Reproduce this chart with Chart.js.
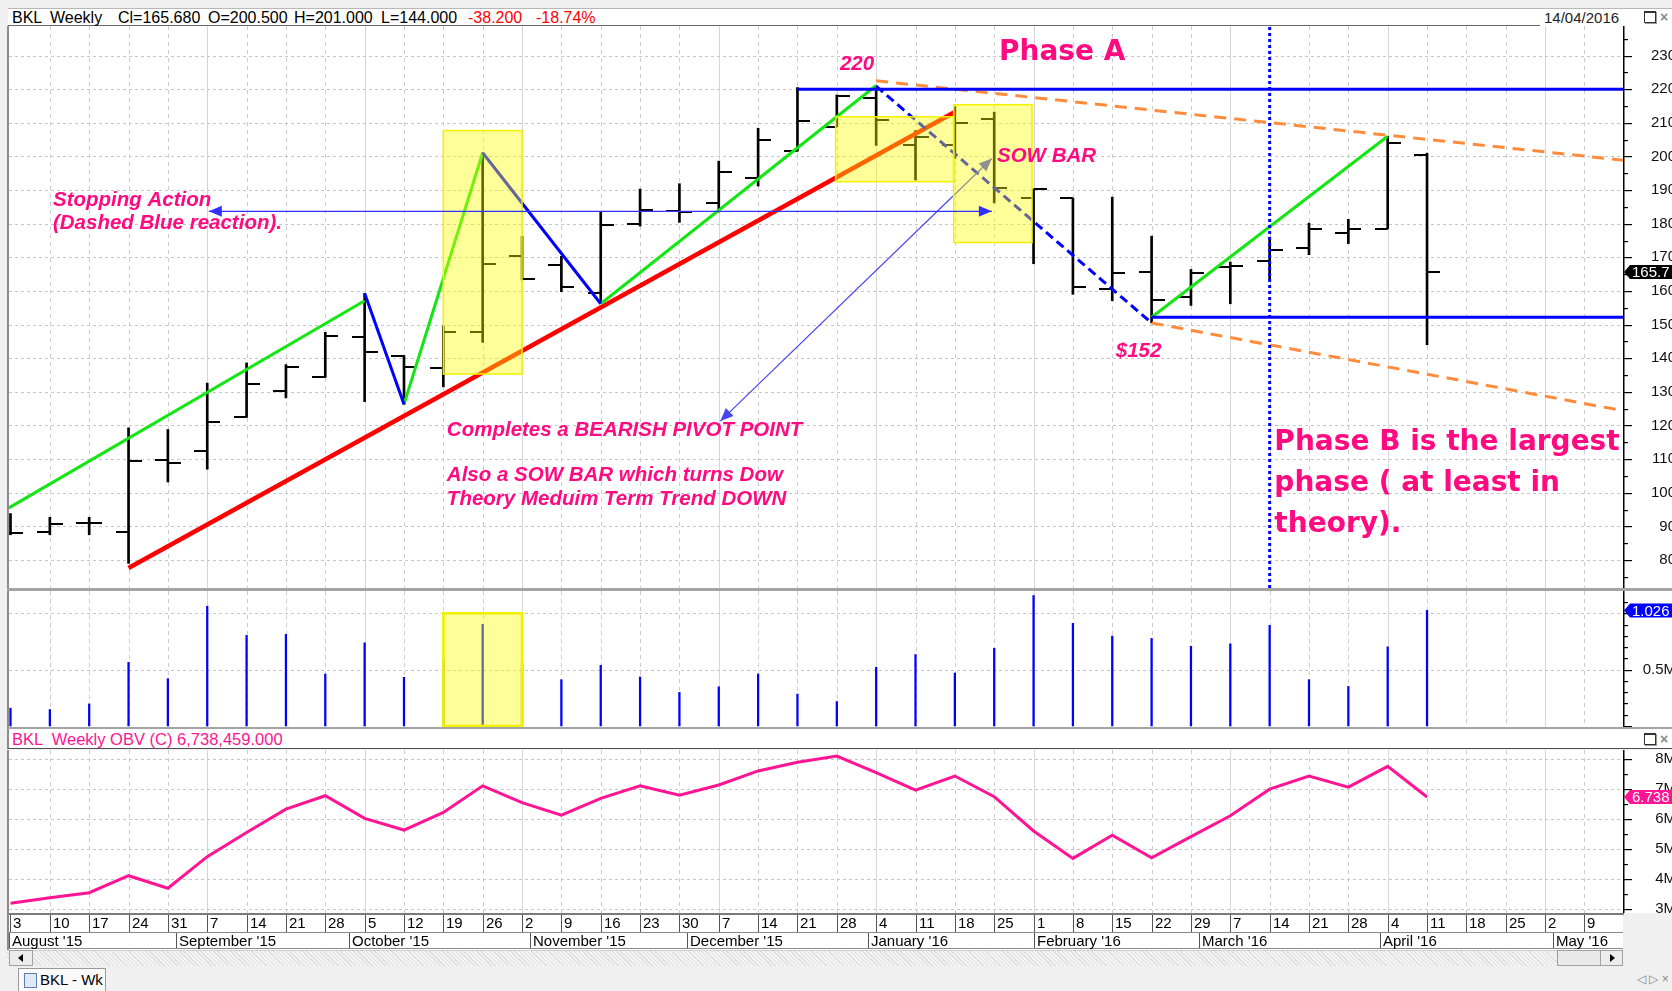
<!DOCTYPE html>
<html>
<head>
<meta charset="utf-8">
<title>BKL Weekly</title>
<script src="https://cdn.jsdelivr.net/npm/chart.js@4.4.1/dist/chart.umd.min.js"></script>
<style>
  html, body { margin:0; padding:0; overflow:hidden; }
  body { width:1672px; height:991px; background:#f0f0f0; position:relative; font-family:"Liberation Sans", Arial, sans-serif; }
  .abs { position:absolute; }
  canvas { position:absolute; left:0; }
  .t { position:absolute; font-size:16px; line-height:17px; white-space:pre; color:#000; }
  #hdr { left:8px; top:8px; width:1664px; height:18px; background:#fff; border-top:1px solid #b8b8b8; box-sizing:border-box; }
  #hdrline { left:8px; top:25px; width:1532px; height:1px; background:#6a6a6a; }
  #sep1 { left:7px; top:588px; width:1665px; height:3px; background:#a4a4a4; }
  #sep2 { left:7px; top:727px; width:1665px; height:2px; background:#a4a4a4; }
  #obvhdr { left:7px; top:729px; width:1665px; height:20px; background:#fff; border-left:2px solid #8c8c8c; border-bottom:1px solid #505050; box-sizing:border-box; }
  .icobox { position:absolute; width:10px; height:9px; border:1px solid #333; border-top:2px solid #333; box-shadow:1px 1px 0 #999; }
  .icox { position:absolute; font-size:14px; color:#888; line-height:14px; font-weight:bold; }
  #scroll { left:7px; top:950px; width:1616px; height:16px; background:repeating-linear-gradient(45deg,#dedede 0 1px,#f3f3f3 1px 3px); border-top:1px solid #d0d0d0; box-sizing:border-box; }
  .sbtn { position:absolute; top:950px; height:16px; background:#ececec; border:1px solid #a0a0a0; box-sizing:border-box; }
  #tab { left:18px; top:968px; width:88px; height:23px; background:#fafafa; border:1px solid #9a9a9a; border-bottom:none; box-sizing:border-box; }
</style>
</head>
<body>
<div id="hdr" class="abs"></div>
<div id="hdrline" class="abs"></div>
<div class="t" style="left:12px;top:9px">BKL</div>
<div class="t" style="left:50px;top:9px">Weekly</div>
<div class="t" style="left:118px;top:9px">Cl=165.680</div>
<div class="t" style="left:208px;top:9px">O=200.500</div>
<div class="t" style="left:294px;top:9px">H=201.000</div>
<div class="t" style="left:381px;top:9px">L=144.000</div>
<div class="t" style="left:468px;top:9px;color:#ff0000">-38.200</div>
<div class="t" style="left:536px;top:9px;color:#ff0000">-18.74%</div>
<div class="t" style="left:1544px;top:9px;font-size:15px;color:#222">14/04/2016</div>
<div class="icobox" style="left:1644px;top:11px"></div>
<div class="icox" style="left:1660px;top:10px">×</div>

<canvas id="cPrice" width="1676" height="562" style="top:26px;width:1676px;height:562px"></canvas>
<div id="sep1" class="abs"></div>
<canvas id="cVol" width="1676" height="136" style="top:591px;width:1676px;height:136px"></canvas>
<div id="sep2" class="abs"></div>
<div id="obvhdr" class="abs"></div>
<div class="t" style="left:12px;top:731px;color:#ff1493;font-size:16.5px">BKL  Weekly OBV (C) 6,738,459.000</div>
<div class="icobox" style="left:1644px;top:733px"></div>
<div class="icox" style="left:1660px;top:732px">×</div>
<canvas id="cObv" width="1676" height="200" style="top:750px;width:1676px;height:200px"></canvas>

<div id="scroll" class="abs"></div>
<div class="sbtn" style="left:9px;width:24px;"><div style="position:absolute;left:8px;top:3px;width:0;height:0;border-top:4px solid transparent;border-bottom:4px solid transparent;border-right:5px solid #000;"></div></div>
<div class="sbtn" style="left:1557px;width:44px;background:#e9e9e9"></div>
<div class="sbtn" style="left:1600px;width:23px;"><div style="position:absolute;left:9px;top:3px;width:0;height:0;border-top:4px solid transparent;border-bottom:4px solid transparent;border-left:5px solid #000;"></div></div>
<div id="tab" class="abs"><div style="position:absolute;left:5px;top:4px;width:11px;height:13px;background:#dfe8f5;border:1px solid #5a7fb0;"></div><div class="t" style="left:21px;top:2px;font-size:15px">BKL - Wk</div></div>
<div class="t" style="left:1637px;top:971px;font-size:12px;color:#888">◁ ▷ ×</div>

<script>
// ================= DATA =================
const weeks = ['2015-08-03','2015-08-10','2015-08-17','2015-08-24','2015-08-31','2015-09-07','2015-09-14','2015-09-21','2015-09-28',
  '2015-10-05','2015-10-12','2015-10-19','2015-10-26','2015-11-02','2015-11-09','2015-11-16','2015-11-23','2015-11-30',
  '2015-12-07','2015-12-14','2015-12-21','2015-12-28','2016-01-04','2016-01-11','2016-01-18','2016-01-25',
  '2016-02-01','2016-02-08','2016-02-15','2016-02-22','2016-02-29','2016-03-07','2016-03-14','2016-03-21','2016-03-28',
  '2016-04-04','2016-04-11'];
const opens  = [88.0, 88.3, 90.9, 88.3, 109.8, 112.5, 122.4, 130.3, 134.3, 146.4, 140.8, 137.0, 147.7, 170.3, 167.7, 159.5, 179.8, 183.8, 186.2, 193.6, 201.6, 208.8, 217.3, 203.5, 203.3, 211.2, 187.6, 187.6, 160.6, 165.6, 158.2, 167.2, 168.9, 172.8, 177.2, 178.5, 200.5];
const highs  = [93.8, 92.7, 92.7, 119.3, 118.8, 132.6, 138.6, 138.1, 147.7, 159.3, 140.8, 149.6, 201.1, 176.3, 170.3, 183.5, 190.3, 191.9, 198.6, 208.4, 220.5, 218.3, 221.0, 207.7, 214.8, 213.2, 190.3, 187.6, 187.9, 176.3, 166.4, 168.6, 176.0, 180.2, 181.3, 206.0, 201.0];
const lows   = [87.5, 87.5, 87.5, 79.0, 103.2, 107.0, 122.4, 128.2, 134.3, 127.1, 126.3, 131.5, 144.7, 163.3, 159.8, 156.5, 179.3, 180.4, 183.5, 191.2, 201.6, 208.8, 203.3, 193.0, 199.4, 186.2, 168.1, 159.0, 157.1, 150.5, 155.7, 156.2, 163.1, 170.8, 174.1, 178.5, 144.0];
const closes = [88.0, 90.8, 91.0, 109.5, 108.7, 121.1, 132.3, 137.3, 146.6, 142.0, 137.3, 147.7, 168.1, 163.7, 161.2, 179.5, 184.0, 183.6, 195.3, 204.9, 210.4, 218.1, 210.7, 205.7, 210.1, 190.6, 190.2, 161.2, 165.3, 157.4, 165.3, 167.5, 172.1, 178.5, 178.3, 203.88, 165.68];
const volumeM = [0.158, 0.146, 0.196, 0.565, 0.420, 1.063, 0.804, 0.813, 0.461, 0.738, 0.432, 0.590, 0.902, 0.560, 0.411, 0.538, 0.435, 0.298, 0.348, 0.461, 0.283, 0.217, 0.521, 0.634, 0.470, 0.690, 1.158, 0.911, 0.798, 0.777, 0.708, 0.729, 0.893, 0.411, 0.351, 0.703, 1.026];
const obvM = [3.18, 3.36, 3.53, 4.10, 3.68, 4.74, 5.55, 6.33, 6.78, 6.02, 5.63, 6.22, 7.11, 6.55, 6.13, 6.69, 7.11, 6.80, 7.14, 7.61, 7.90, 8.11, 7.55, 6.97, 7.44, 6.75, 5.60, 4.68, 5.46, 4.70, 5.41, 6.11, 7.00, 7.44, 7.07, 7.764, 6.738459];

// x-axis tick labels (one slot per week, incl. empty future weeks)
const dayLabels = ['3','10','17','24','31','7','14','21','28','5','12','19','26','2','9','16','23','30','7','14','21','28',
  '4','11','18','25','1','8','15','22','29','7','14','21','28','4','11','18','25','2','9'];
const monthLabels = ["August '15","September '15","October '15","November '15","December '15","January '16","February '16","March '16","April '16","May '16"];
const monthStartPos = [-0.04, 4.2, 8.6, 13.2, 17.2, 21.8, 26.0, 30.2, 34.8, 39.2];
const monthFirstWeek = [5, 9, 13, 18, 22, 26, 31, 35, 39];

// hand-drawn trend lines [weekIndex, price]
const greenLines = [ [[-0.04,95.5],[9,157.1]], [[10,126.3],[12,201.1]], [[15,156.2],[22,221.1]], [[29,152.2],[35,206.0]] ];
const blueLines  = [ [[9,159.3],[10,126.3]], [[12,201.1],[15,156.2]], [[20,220.0],[40.98,220.0]], [[29,152.2],[40.98,152.2]] ];
const redLine    = [[3,77.6],[24,213.2]];
const blueDashedLine = [[22,220.9],[29,150.5]];
const orangeUpperLine = [[22,222.5],[40.98,198.9]];
const orangeLowerLine = [[29,150.5],[40.98,124.4]];
const dottedVLine = [[32,71.67],[32,238.8]];
const horizArrow = [[5.04,183.7],[24.94,183.7]];
const diagArrow  = [[18.04,121.3],[24.94,199.4]];
// highlight boxes [x1, x2, yLow, yHigh]
const priceBoxes = [[11.0,13.0,135.3,207.7],[20.97,23.97,192.5,211.8],[23.97,25.96,174.4,215.4]];
const volumeBoxes = [[11.0,13.0,0,1.0]];

const PINK = '#ff0a80';
const IT = 'italic bold 20.5px "Liberation Sans", Arial';
const PH = 'bold 28px "DejaVu Sans"';
const annotTexts = [
  {t:'Stopping Action', x:1.08, y:186.9, f:IT},
  {t:'(Dashed Blue reaction).', x:1.08, y:180.1, f:IT},
  {t:'220', x:21.08, y:227.5, f:IT},
  {t:'Phase A', x:25.12, y:230.9, f:PH},
  {t:'SOW BAR', x:25.07, y:199.9, f:IT},
  {t:'Completes a BEARISH PIVOT POINT', x:11.09, y:118.6, f:IT},
  {t:'Also a SOW BAR which turns Dow', x:11.09, y:105.1, f:IT},
  {t:'Theory Meduim Term Trend DOWN', x:11.09, y:98.0, f:IT},
  {t:'$152', x:28.09, y:141.9, f:IT},
  {t:'Phase B is the largest', x:32.12, y:114.8, f:PH},
  {t:'phase ( at least in', x:32.12, y:102.6, f:PH},
  {t:'theory).', x:32.12, y:90.5, f:PH}
];

// ================= HELPERS =================
const FONT = '"Liberation Sans", Arial, sans-serif';
Chart.defaults.font.family = FONT;

function tickImg(side){
  const c = document.createElement('canvas'); c.width = 26; c.height = 2;
  const g = c.getContext('2d'); g.fillStyle = '#000';
  g.fillRect(side === 'left' ? 0 : 13, 0, 13, 2);
  return c;
}
function seg(pts, color, width, dash, order){
  return { type:'line', data: pts.map(p => ({x:p[0], y:p[1]})), borderColor:color, borderWidth:width,
    borderDash: dash || [], pointRadius:0, fill:false, tension:0, order, borderCapStyle:'butt' };
}
function arrow(ctx, p1, p2, color, w){
  ctx.strokeStyle = color; ctx.fillStyle = color; ctx.lineWidth = w; ctx.setLineDash([]);
  ctx.beginPath(); ctx.moveTo(p1[0], p1[1]); ctx.lineTo(p2[0], p2[1]); ctx.stroke();
  const head = (tip, from) => {
    const a = Math.atan2(tip[1]-from[1], tip[0]-from[0]); const L = 13, W = 5.5;
    ctx.beginPath(); ctx.moveTo(tip[0], tip[1]);
    ctx.lineTo(tip[0]-L*Math.cos(a)+W*Math.sin(a), tip[1]-L*Math.sin(a)-W*Math.cos(a));
    ctx.lineTo(tip[0]-L*Math.cos(a)-W*Math.sin(a), tip[1]-L*Math.sin(a)+W*Math.cos(a));
    ctx.closePath(); ctx.fill();
  };
  head(p1, p2); head(p2, p1);
}
function drawBoxes(chart, boxes, bw){
  const {ctx, scales:{x, y}} = chart;
  boxes.forEach(b => {
    const x1 = x.getPixelForValue(b[0]), x2 = x.getPixelForValue(b[1]);
    const y1 = y.getPixelForValue(b[3]), y2 = y.getPixelForValue(b[2]);
    ctx.fillStyle = 'rgba(255,255,0,0.4)'; ctx.fillRect(x1, y1, x2-x1, y2-y1);
    ctx.strokeStyle = '#f0f000'; ctx.lineWidth = bw || 1.5; ctx.setLineDash([]); ctx.strokeRect(x1, y1, x2-x1, y2-y1);
  });
}
function drawXRows(chart){
  const {ctx, chartArea:a, scales:{x}} = chart;
  const top = a.bottom, H = chart.height - top;
  ctx.fillStyle = '#fff'; ctx.fillRect(9, top, a.right - 9, H);
  ctx.fillStyle = '#f0f0f0'; ctx.fillRect(a.right, top, chart.width - a.right, H);
  ctx.fillStyle = '#7a7a7a'; ctx.fillRect(9, top, a.right - 9 + 1, 2);
  ctx.fillStyle = '#8a8a8a'; ctx.fillRect(9, top + 19, a.right - 9, 1); ctx.fillRect(9, top + 35, a.right - 9, 1);
  ctx.fillStyle = '#8c8c8c'; ctx.fillRect(7, top, 2, H);
  ctx.font = '15px ' + FONT; ctx.textBaseline = 'middle'; ctx.textAlign = 'left';
  dayLabels.forEach((lab, i) => {
    const px = Math.round(x.getPixelForValue(i));
    ctx.fillStyle = '#555'; ctx.fillRect(px, top + 2, 1, 17);
    ctx.fillStyle = '#000'; ctx.fillText(lab, px + 3, top + 11);
  });
  monthLabels.forEach((lab, k) => {
    let px = Math.round(x.getPixelForValue(monthStartPos[k])); if (px < 9) px = 9;
    ctx.fillStyle = '#555'; ctx.fillRect(px, top + 20, 1, 15);
    ctx.fillStyle = '#000'; ctx.fillText(lab, px + 3, top + 28.5);
  });
}

const deco = {
  id: 'deco',
  beforeDraw(chart, args, o){
    const {ctx, chartArea:a, scales:{x, y}} = chart;
    ctx.save();
    ctx.fillStyle = '#fff'; ctx.fillRect(9, 0, chart.width - 9, chart.height);
    ctx.fillStyle = '#8c8c8c'; ctx.fillRect(7, 0, 2, chart.height);
    ctx.lineWidth = 1;
    dayLabels.forEach((_, i) => {
      const px = Math.round(x.getPixelForValue(i)) + 0.5;
      if (px < a.left + 2 || px > a.right) return;
      const solid = monthFirstWeek.includes(i);
      ctx.strokeStyle = solid ? '#d6d6d6' : '#cdcdcd';
      ctx.setLineDash(solid ? [] : [4, 4]);
      ctx.beginPath(); ctx.moveTo(px, a.top); ctx.lineTo(px, a.bottom); ctx.stroke();
    });
    ctx.setLineDash([3, 3]); ctx.strokeStyle = '#c6c6c6';
    y.ticks.forEach(t => {
      if (t.value === 0) return;
      const py = Math.round(y.getPixelForValue(t.value)) + 0.5;
      ctx.beginPath(); ctx.moveTo(a.left, py); ctx.lineTo(a.right, py); ctx.stroke();
    });
    ctx.restore();
  },
  afterDatasetsDraw(chart, args, o){
    if (o.overlay) { chart.ctx.save(); o.overlay(chart); chart.ctx.restore(); }
  },
  afterDraw(chart, args, o){
    const {ctx, chartArea:a, scales:{y}} = chart;
    ctx.save();
    ctx.fillStyle = '#000';
    ctx.fillRect(a.right, 0, 1.5, a.bottom);
    for (let k = Math.ceil(y.min / o.minorStep - 1e-9); k * o.minorStep <= y.max + 1e-9; k++) {
      const v = k * o.minorStep;
      const r = v / o.majorStep;
      const major = Math.abs(r - Math.round(r)) < 1e-6;
      const py = Math.round(y.getPixelForValue(v));
      ctx.fillRect(a.right, py, major ? 9 : 5, 1.2);
    }
    if (o.marker) {
      const py = y.getPixelForValue(o.marker.value), x0 = a.right + 1;
      ctx.fillStyle = o.marker.bg;
      ctx.beginPath(); ctx.moveTo(x0, py); ctx.lineTo(x0 + 6, py - 7); ctx.lineTo(chart.width, py - 7);
      ctx.lineTo(chart.width, py + 7); ctx.lineTo(x0 + 6, py + 7); ctx.closePath(); ctx.fill();
      ctx.fillStyle = '#fff'; ctx.font = '15px ' + FONT; ctx.textBaseline = 'middle'; ctx.textAlign = 'left';
      ctx.fillText(o.marker.text, x0 + 8, py + 1);
    }
    if (o.xRows) drawXRows(chart);
    ctx.restore();
  }
};

function yAxis(min, max, step, cb, pad){
  return { type:'linear', position:'right', min, max,
    grid:{ display:false, drawTicks:false }, border:{ display:false },
    ticks:{ stepSize:step, includeBounds:false, crossAlign:'far', padding:pad, color:'#111', font:{ size:15 }, callback:cb },
    afterFit(s){ s.width = 53; s.paddingTop = 0; s.paddingBottom = 0; } };
}
const xAxis = { type:'linear', min:-0.038, max:40.98, display:false, offset:false };
const common = { responsive:false, animation:false, events:[], devicePixelRatio:1 };

// ================= PRICE =================
const hlData = weeks.map((w, i) => ({ x:i, y:[lows[i], highs[i]] }));
const openData = weeks.map((w, i) => ({ x:i, y:opens[i] }));
const closeData = weeks.map((w, i) => ({ x:i, y:closes[i] }));

const priceDatasets = [
  seg(dottedVLine, '#0000ff', 3, [3, 3], 1),
  seg(blueDashedLine, '#0000ff', 3, [9, 5], 2),
  ...blueLines.map(l => seg(l, '#0000ff', 3, [], 3)),
  ...greenLines.map(l => seg(l, '#14e614', 3, [], 4)),
  seg(orangeUpperLine, '#ff8c3c', 3, [12, 8], 5),
  seg(orangeLowerLine, '#ff8c3c', 3, [12, 8], 5),
  seg(redLine, '#ff0000', 4.5, [], 6),
  { type:'scatter', data:openData, pointStyle:tickImg('left'), pointRadius:3, order:8 },
  { type:'scatter', data:closeData, pointStyle:tickImg('right'), pointRadius:3, order:8 },
  { type:'bar', data:hlData, backgroundColor:'#000', barThickness:2, order:9 }
];

function overlayPrice(chart){
  const {ctx, scales:{x, y}} = chart;
  const P = p => [x.getPixelForValue(p[0]), y.getPixelForValue(p[1])];
  arrow(ctx, P(diagArrow[0]), P(diagArrow[1]), '#4646f0', 1.2);
  drawBoxes(chart, priceBoxes, 1.5);
  arrow(ctx, P(horizArrow[0]), P(horizArrow[1]), '#3030ff', 1.3);
  ctx.textBaseline = 'middle'; ctx.textAlign = 'left'; ctx.fillStyle = PINK;
  annotTexts.forEach(t => { ctx.font = t.f; ctx.fillText(t.t, x.getPixelForValue(t.x), y.getPixelForValue(t.y)); });
}

new Chart(document.getElementById('cPrice'), {
  type:'bar',
  data:{ datasets: priceDatasets },
  options:{ ...common,
    layout:{ padding:{ left:9, right:0, top:0, bottom:0 }, autoPadding:false },
    plugins:{ legend:{display:false}, tooltip:{enabled:false},
      deco:{ minorStep:5, majorStep:10, marker:{ value:closes[closes.length-1], bg:'#000', text:'165.7' }, overlay:overlayPrice } },
    scales:{ x:xAxis, y:yAxis(71.67, 238.8, 10, v => String(v), 28) }
  },
  plugins:[deco]
});

// ================= VOLUME =================
new Chart(document.getElementById('cVol'), {
  type:'bar',
  data:{ datasets:[{ data: weeks.map((w, i) => ({ x:i, y:volumeM[i] })), backgroundColor:'#0000ff', barThickness:1.6 }] },
  options:{ ...common,
    layout:{ padding:{ left:9, right:0, top:0, bottom:0 }, autoPadding:false },
    plugins:{ legend:{display:false}, tooltip:{enabled:false},
      deco:{ minorStep:0.1, majorStep:0.5, marker:{ value:volumeM[volumeM.length-1], bg:'#0000ff', text:'1.026' }, overlay:c => drawBoxes(c, volumeBoxes, 2.6) } },
    scales:{ x:xAxis, y:yAxis(-0.009, 1.198, 0.5, v => v === 0 ? '' : v.toFixed(1) + 'M', 19) }
  },
  plugins:[deco]
});

// ================= OBV =================
new Chart(document.getElementById('cObv'), {
  type:'line',
  data:{ datasets:[{ data: weeks.map((w, i) => ({ x:i, y:obvM[i] })), borderColor:'#ff1493', borderWidth:3, pointRadius:0, tension:0, fill:false }] },
  options:{ ...common,
    layout:{ padding:{ left:9, right:0, top:0, bottom:37 }, autoPadding:false },
    plugins:{ legend:{display:false}, tooltip:{enabled:false},
      deco:{ minorStep:0.5, majorStep:1, marker:{ value:obvM[obvM.length-1], bg:'#ff1493', text:'6.738' }, xRows:true } },
    scales:{ x:xAxis, y:yAxis(2.851, 8.312, 1, v => v + 'M', 31) }
  },
  plugins:[deco]
});
</script>
</body>
</html>
